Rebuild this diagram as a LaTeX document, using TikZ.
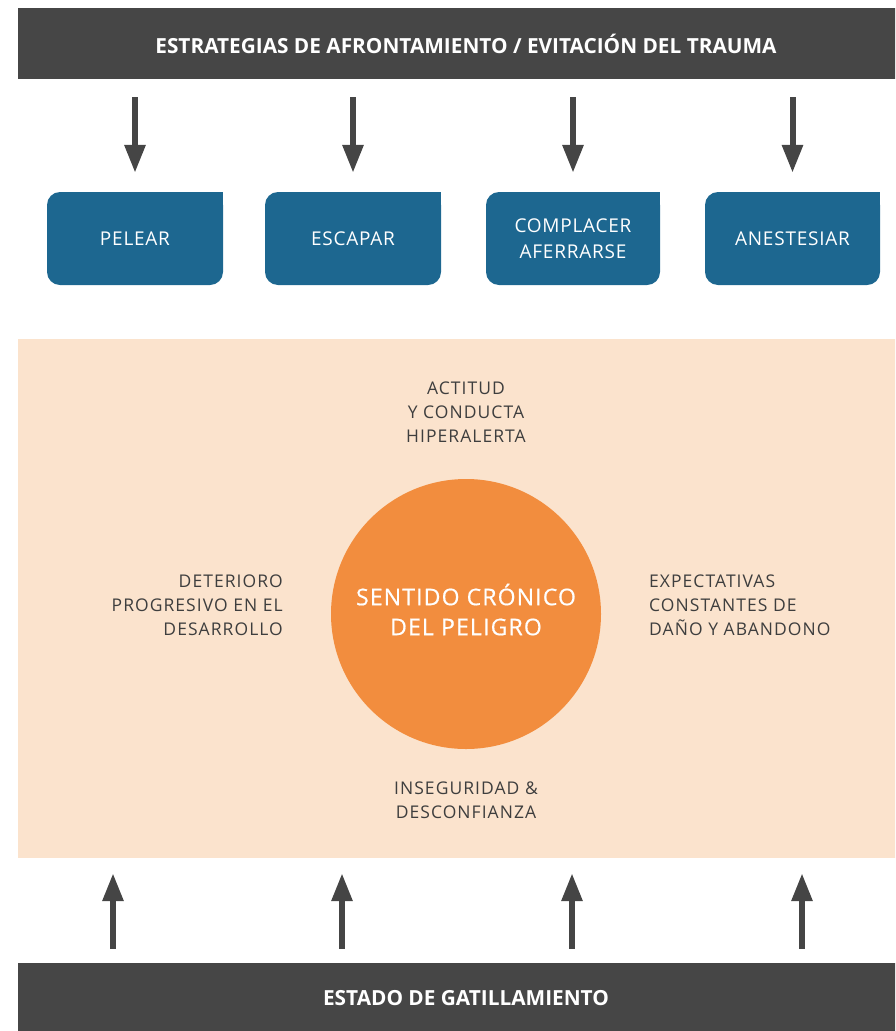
\documentclass[tikz,border=0pt]{standalone}
\usepackage{fontspec}
\setmainfont{Open Sans}
\newfontfamily\barfont[LetterSpace=0]{Open Sans}
\newfontfamily\boxfont[LetterSpace=4]{Open Sans}
\newfontfamily\corefont[LetterSpace=5,FakeBold=0.6]{Open Sans}
\newfontfamily\pfont[LetterSpace=6]{Open Sans}
\usetikzlibrary{arrows.meta}
\definecolor{bardark}{HTML}{464646}
\definecolor{boxblue}{HTML}{1D6790}
\definecolor{peach}{HTML}{FBE3CD}
\definecolor{orangec}{HTML}{F28D3E}
\definecolor{txtdark}{HTML}{3E3E3E}
\definecolor{arrowc}{HTML}{454545}
\tikzset{
  barbox/.style={fill=bardark, inner sep=0pt, text=white, font=\barfont\bfseries\fontsize{20.8}{24}\selectfont},
  stratbox/.style={fill=boxblue, rounded corners=13pt, minimum width=176pt, minimum height=93pt, inner sep=0pt, text=white, align=center, font=\boxfont\fontsize{19}{26}\selectfont},
  ptext/.style={text=txtdark, inner sep=0pt, font=\pfont\fontsize{17.5}{24}\selectfont},
  arr/.style={draw=arrowc, line width=6pt, -{Triangle[length=28pt,width=20pt]}},
}
\begin{document}
\begin{tikzpicture}[x=1pt,y=-1pt]
\useasboundingbox (0,0) rectangle (895,1031);
\clip (0,0) rectangle (895,1031);
% bars
\node[barbox, minimum width=896pt, minimum height=71pt] (top) at (466,43.5) {ESTRATEGIAS DE AFRONTAMIENTO / EVITACIÓN DEL TRAUMA};
\node[barbox, minimum width=896pt, minimum height=70pt] (bot) at (466,998) {ESTADO DE GATILLAMIENTO};
% peach area
\node[fill=peach, minimum width=896pt, minimum height=519pt, inner sep=0pt] (zone) at (466,598.5) {};
% strategy boxes
\node[stratbox] (b1) at (135,238.5) {PELEAR};
\node[stratbox] (b2) at (353,238.5) {ESCAPAR};
\node[stratbox, minimum width=174pt] (b3) at (573,238.5) {COMPLACER\\AFERRARSE};
\node[stratbox, minimum width=175pt] (b4) at (792.5,238.5) {ANESTESIAR};
\foreach \b in {b1,b2,b3,b4}{
  \fill[boxblue] ([xshift=-16pt,yshift=-16pt]\b.north east) rectangle (\b.north east);
  \draw[arr, shorten <=18pt, shorten >=19pt] (top.south -| \b) -- (\b.north);
}
% circle
\node[circle, fill=orangec, minimum size=270pt, inner sep=0pt, text=white, font=\corefont\fontsize{23}{30}\selectfont] (core) at (466,614) {\raisebox{4pt}{\begin{tabular}{@{}c@{}}SENTIDO CRÓNICO\\DEL PELIGRO\end{tabular}}};
% surrounding texts
\node[ptext, align=center, anchor=north] (t1) at (466,382) {ACTITUD\\Y CONDUCTA\\HIPERALERTA};
\node[ptext, align=right, anchor=north east] (t2) at (283,575) {DETERIORO\\PROGRESIVO EN EL\\DESARROLLO};
\node[ptext, align=left, anchor=north west] (t3) at (649,575) {EXPECTATIVAS\\CONSTANTES DE\\DAÑO Y ABANDONO};
\node[ptext, align=center, anchor=north] (t4) at (466,782) {INSEGURIDAD \&\\DESCONFIANZA};
% bottom arrows
\foreach \i/\x in {1/113,2/342,3/572,4/802}{
  \coordinate (u\i) at (\x,900);
  \draw[arr, shorten <=14pt, shorten >=15pt] (bot.north -| u\i) -- (zone.south -| u\i);
}
\end{tikzpicture}
\end{document}
